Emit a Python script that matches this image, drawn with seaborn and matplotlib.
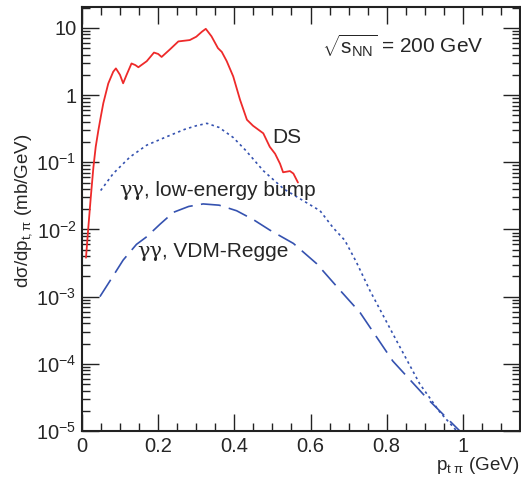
import numpy as np
import pandas as pd
import seaborn as sns
import matplotlib
matplotlib.use("Agg")
import matplotlib.pyplot as plt
from matplotlib.ticker import FixedLocator, NullFormatter, FuncFormatter

# DS (red solid)
ds_x = [0.0105, 0.0166, 0.023, 0.030, 0.036, 0.043, 0.050, 0.056, 0.069, 0.082, 0.089, 0.0998,
        0.108, 0.117, 0.130, 0.140, 0.148, 0.170, 0.189, 0.200, 0.209, 0.231, 0.253, 0.283,
        0.300, 0.315, 0.325, 0.340, 0.357, 0.367, 0.380, 0.397, 0.415, 0.433, 0.449, 0.476,
        0.493, 0.507, 0.520, 0.528, 0.546, 0.555, 0.567]
ds_y = [0.0038, 0.0107, 0.030, 0.085, 0.17, 0.30, 0.50, 0.76, 1.49, 2.23, 2.5, 2.0,
        1.5, 2.0, 2.96, 2.8, 2.6, 3.2, 4.3, 4.1, 3.7, 4.8, 6.3, 6.6,
        7.4, 8.8, 9.7, 7.5, 5.0, 4.4, 3.2, 1.9, 0.85, 0.43, 0.35, 0.27,
        0.17, 0.134, 0.095, 0.071, 0.074, 0.068, 0.05]

# gamma gamma, low-energy bump (blue dotted)
le_x = [0.049, 0.082, 0.126, 0.170, 0.222, 0.270, 0.300, 0.328, 0.360, 0.397, 0.430,
        0.476, 0.530, 0.580, 0.625, 0.660, 0.690, 0.720, 0.756, 0.826, 0.887, 0.940, 0.984]
le_y = [0.038, 0.068, 0.12, 0.18, 0.24, 0.31, 0.35, 0.38, 0.33, 0.234, 0.15,
        0.075, 0.040, 0.027, 0.019, 0.0105, 0.0069, 0.0033, 0.00123, 0.00022, 0.00005, 0.000019, 0.00001]

# gamma gamma, VDM-Regge (blue dashed)
vr_x = [0.047, 0.073, 0.108, 0.143, 0.170, 0.205, 0.240, 0.280, 0.318, 0.360, 0.406, 0.450,
        0.493, 0.555, 0.616, 0.680, 0.730, 0.816, 0.905, 0.992]
vr_y = [0.0010, 0.0017, 0.0035, 0.0060, 0.0078, 0.012, 0.018, 0.022, 0.024, 0.023, 0.019, 0.014,
        0.0098, 0.0062, 0.0031, 0.0012, 0.00058, 0.00011, 0.000031, 0.00001]

x_ticks = [0, 0.2, 0.4, 0.6, 0.8, 1.0]
y_ticks = [1e-5, 1e-4, 1e-3, 1e-2, 1e-1, 1, 10]

df = pd.concat([
    pd.DataFrame({"x": ds_x, "y": ds_y, "model": "DS"}),
    pd.DataFrame({"x": le_x, "y": le_y, "model": "LE"}),
    pd.DataFrame({"x": vr_x, "y": vr_y, "model": "VR"}),
])

sns.set_style("ticks")
plt.rcParams['font.family'] = ['Liberation Sans', 'DejaVu Sans']
plt.rcParams['mathtext.fontset'] = 'custom'
plt.rcParams['mathtext.rm'] = 'Liberation Sans'
plt.rcParams['mathtext.it'] = 'Liberation Sans'

fig = plt.figure(figsize=(5.21, 4.86), dpi=100)
ax = fig.add_axes([82/521, 1-431/486, (520-82)/521, (431-7)/486])

red = "#ee2a2a"
blue = "#3552b0"
sns.lineplot(data=df[df.model == "DS"], x="x", y="y", ax=ax, color=red, lw=1.3, sort=False)
sns.lineplot(data=df[df.model == "LE"], x="x", y="y", ax=ax, color=blue, lw=1.2, sort=False,
             linestyle=(0, (1.5, 2.0)))
sns.lineplot(data=df[df.model == "VR"], x="x", y="y", ax=ax, color=blue, lw=1.2, sort=False,
             linestyle=(0, (12, 5)))

ax.set_yscale("log")
ax.set_xlim(0, 1.15)
ax.set_ylim(1e-5, 20.5)

def yfmt(v, pos):
    e = int(round(np.log10(v)))
    if e == 0:
        return "1"
    if e == 1:
        return "10"
    return r"$\mathregular{10^{%d}}$" % e

minor_y = [m * 10.0**e for e in range(-5, 2) for m in range(2, 10) if m * 10.0**e <= 20.5]
ax.yaxis.set_major_locator(FixedLocator(y_ticks))
ax.yaxis.set_major_formatter(FuncFormatter(yfmt))
ax.yaxis.set_minor_locator(FixedLocator(minor_y))
ax.yaxis.set_minor_formatter(NullFormatter())
ax.xaxis.set_major_locator(FixedLocator(x_ticks))
ax.xaxis.set_major_formatter(FuncFormatter(lambda v, p: "0" if v == 0 else ("1" if abs(v-1) < 1e-9 else "%g" % v)))
ax.xaxis.set_minor_locator(FixedLocator(np.arange(0, 1.16, 0.05)))
ax.xaxis.set_minor_formatter(NullFormatter())

ax.tick_params(which="both", direction="in", top=True, right=True, labelsize=14.5,
               color="#222222", width=1.0, pad=4)
ax.tick_params(which="major", length=12)
ax.tick_params(which="minor", length=6)
for s in ax.spines.values():
    s.set_linewidth(1.5)
    s.set_color("#222222")

ax.set_xlabel("")
ax.set_ylabel("")
fig.text(0.997, 1-465/486, r"p$_{\mathregular{t\ \pi}}$ (GeV)", ha="right", va="center", fontsize=13.5)
fig.text(24/521, 1-211/486, r"d$\sigma$/dp$_{\mathregular{t,\pi}}$ (mb/GeV)", rotation=90,
         ha="center", va="center", fontsize=13.5)

ax.text(0.548, 0.908, r"$\sqrt{\mathregular{s_{NN}}}$ = 200 GeV", transform=ax.transAxes, fontsize=15,
        ha="left", va="center")
ax.text(0.434, 0.692, "DS", transform=ax.transAxes, fontsize=15, ha="left", va="center")

def gg_label(xpx, ypx, rest):
    t = fig.text(xpx/521, 1-ypx/486, "γγ", fontsize=15, family="DejaVu Serif",
                 ha="left", va="baseline")
    fig.canvas.draw()
    bb = t.get_window_extent(renderer=fig.canvas.get_renderer())
    x1 = bb.x1 / fig.bbox.width
    fig.text(x1, 1-ypx/486, rest, fontsize=15, ha="left", va="baseline")

gg_label(119, 196, ", low-energy bump")
gg_label(137, 257, ", VDM-Regge")

fig.savefig("out.png", dpi=100)
